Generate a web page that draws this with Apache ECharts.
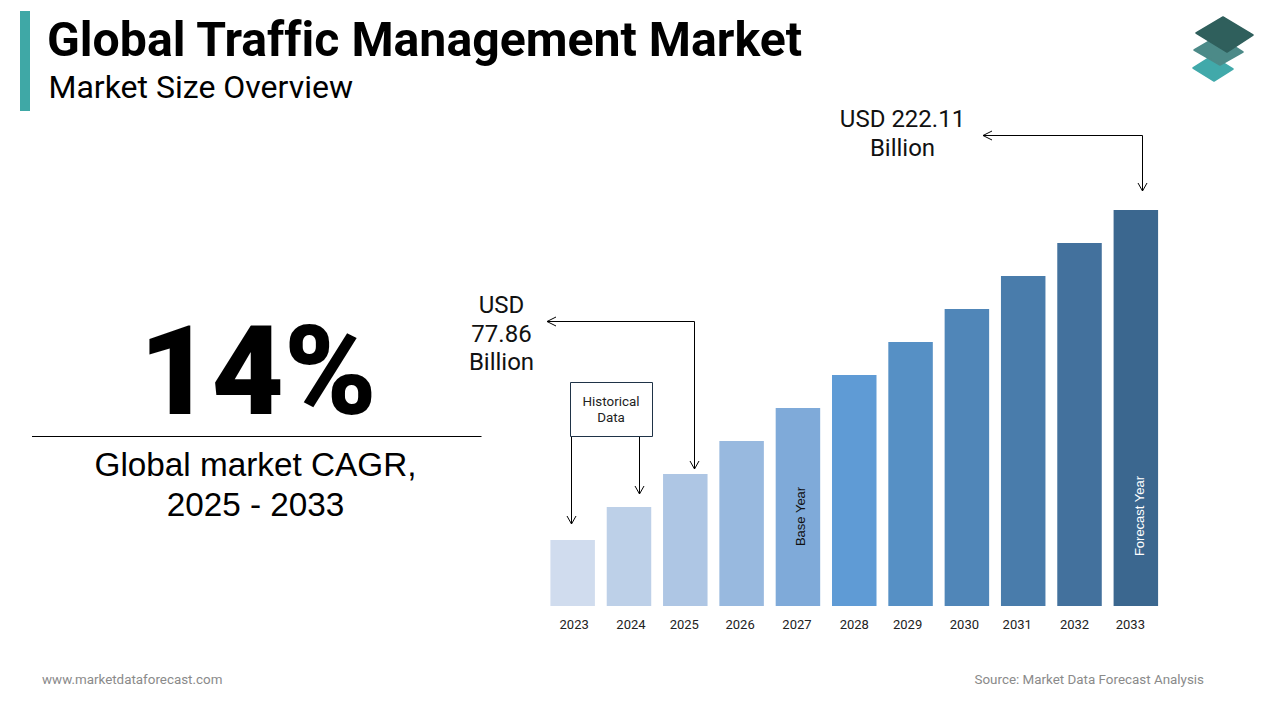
<!DOCTYPE html>
<html>
<head>
<meta charset="utf-8">
<title>Global Traffic Management Market</title>
<style>
    html, body { margin: 0; padding: 0; background: #fff; }
    #main { width: 1280px; height: 720px; }
    #main text { font-variant-ligatures: none !important; }
</style>
<script src="https://cdn.jsdelivr.net/npm/echarts@6/dist/echarts.min.js"></script>
</head>
<body>
<div id="main"></div>
<script>
var years = ['2023', '2024', '2025', '2026', '2027', '2028', '2029', '2030', '2031', '2032', '2033'];
// USD billion (2033 is the labelled 222.11)
var marketSize = [37.0, 55.5, 74.0, 92.5, 111.1, 129.6, 148.1, 166.6, 185.1, 203.6, 222.11];
var barColors = ['#d0dcee', '#bdd0e8', '#aec6e4', '#98b9df', '#7faad9', '#5f9bd5', '#5690c5', '#5086b8', '#497cab', '#43719d', '#3b678f'];
// the year labels sit slightly off the bar centres in the original
var labelShift = [1.5, 2, -1, -1.5, -1, 0, -3, -2.5, -6, -5, -5.5];

var chart = echarts.init(document.getElementById('main'), null, { renderer: 'svg' });

function text(x, y, str, size, opts) {
    opts = opts || {};
    return {
        type: 'text',
        x: x,
        y: y,
        silent: true,
        style: {
            text: str,
            fill: opts.fill || '#000',
            font: (opts.weight || 'normal') + ' ' + size + 'px ' + (opts.family || 'Roboto'),
            textAlign: opts.align || 'left',
            textVerticalAlign: 'middle'
        }
    };
}

function line(points, color, width) {
    return {
        type: 'polyline',
        silent: true,
        shape: { points: points },
        style: { stroke: color || '#000', lineWidth: width || 1, fill: null }
    };
}

function plate(points, color) {
    return {
        type: 'polygon',
        silent: true,
        shape: { points: points },
        style: { fill: color, stroke: color, lineWidth: 1.5, lineJoin: 'round' }
    };
}

var graphics = [
    { type: 'rect', silent: true, shape: { x: 20, y: 11, width: 10, height: 100 }, style: { fill: '#3fa8a6' } },
    text(47, 39.5, 'Global Traffic Management Market', 48.2, { weight: 'bold' }),
    text(48.5, 87, 'Market Size Overview', 32),

    // logo, bottom layer first
    plate([[1193, 68], [1212, 56], [1233, 69], [1214, 81]], '#41a9aa'),
    plate([[1194, 50], [1218, 36], [1243, 52], [1220, 65]], '#4c8a88'),
    plate([[1196, 33], [1223, 17], [1253, 35], [1227, 52]], '#2f5f5c'),

    text(258, 371.5, '14%', 125, { weight: '900', align: 'center' }),
    line([[32, 436.5], [481.5, 436.5]], '#000', 1),
    text(255.5, 464, 'Global market CAGR,', 33.3, { family: 'Liberation Sans', align: 'center' }),
    text(255.5, 504, '2025 - 2033', 33.3, { family: 'Liberation Sans', align: 'center' }),

    // 2033 callout
    text(902.5, 119, 'USD 222.11', 24, { align: 'center', fill: '#111' }),
    text(902.5, 148, 'Billion', 24, { align: 'center', fill: '#111' }),
    line([[983, 135.5], [1142.5, 135.5], [1142.5, 191]]),
    line([[992, 131], [983, 135.5], [992, 140]]),
    line([[1138, 183], [1142.5, 191], [1147, 183]]),

    // 2025 callout
    text(501.5, 305, 'USD', 24, { align: 'center', fill: '#111' }),
    text(501.5, 334, '77.86', 24, { align: 'center', fill: '#111' }),
    text(501.5, 362, 'Billion', 24, { align: 'center', fill: '#111' }),
    line([[547, 321.5], [694.5, 321.5], [694.5, 469]]),
    line([[556, 317], [547, 321.5], [556, 326]]),
    line([[690, 461], [694.5, 469], [699, 461]]),

    // historical data box
    { type: 'rect', silent: true, shape: { x: 570.5, y: 382.5, width: 82, height: 54 }, style: { fill: '#fff', stroke: '#1f3347', lineWidth: 1 } },
    text(611, 401.5, 'Historical', 13.4, { align: 'center', fill: '#222' }),
    text(611, 417.5, 'Data', 13.4, { align: 'center', fill: '#222' }),
    line([[571.5, 437], [571.5, 524]]),
    line([[567, 516], [571.5, 524], [576, 516]]),
    line([[639.5, 437], [639.5, 494]]),
    line([[635, 486], [639.5, 494], [644, 486]]),

    text(42, 679, 'www.marketdataforecast.com', 13.4, { fill: '#8a8a8a' }),
    text(1204, 679, 'Source: Market Data Forecast Analysis', 13.4, { fill: '#8a8a8a', align: 'right' })
];

var barData = marketSize.map(function (v, i) {
    var item = { value: v, itemStyle: { color: barColors[i] } };
    // rotated label: offset runs along the text, so -x moves it down the bar
    if (years[i] === '2027') {
        item.label = { show: true, formatter: 'Base Year', position: 'inside', rotate: 90, offset: [-9.5, 3], color: '#111', fontSize: 13, fontFamily: 'Liberation Sans' };
    }
    if (years[i] === '2033') {
        item.label = { show: true, formatter: 'Forecast Year', position: 'inside', rotate: 90, offset: [-108, 4], color: '#fff', fontSize: 13, fontFamily: 'Liberation Sans' };
    }
    return item;
});

var labelRich = {};
labelShift.forEach(function (s, i) {
    labelRich['y' + i] = {
        color: '#222',
        fontSize: 13,
        fontFamily: 'Roboto',
        padding: s > 0 ? [0, 0, 0, s * 2] : [0, -s * 2, 0, 0]
    };
});

chart.setOption({
    animation: false,
    backgroundColor: '#fff',
    grid: { left: 544.5, top: 210, width: 619.5, height: 396, containLabel: false },
    xAxis: {
        type: 'category',
        data: years,
        axisLine: { show: false },
        axisTick: { show: false },
        axisLabel: {
            interval: 0,
            hideOverlap: false,
            margin: 12,
            rich: labelRich,
            formatter: function (value, index) {
                return '{y' + index + '|' + value + '}';
            }
        }
    },
    yAxis: {
        type: 'value',
        min: 0,
        max: 222.11,
        show: false,
        splitLine: { show: false }
    },
    series: [{
        type: 'bar',
        data: barData,
        barWidth: 44.5
    }],
    graphic: { elements: graphics }
});
</script>
</body>
</html>
